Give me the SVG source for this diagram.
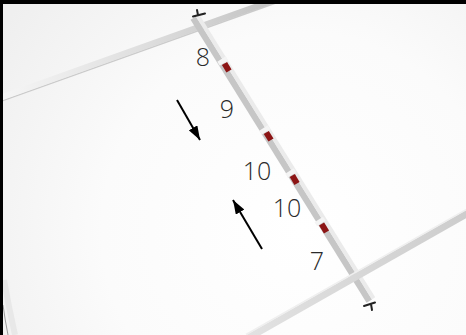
<svg xmlns="http://www.w3.org/2000/svg" width="466" height="335" viewBox="0 0 466 335">
  <defs>
    <radialGradient id="bg" cx="300" cy="230" r="360" gradientUnits="userSpaceOnUse">
      <stop offset="0" stop-color="#ffffff"/>
      <stop offset="0.55" stop-color="#fbfbfb"/>
      <stop offset="1" stop-color="#efefef"/>
    </radialGradient>
    <linearGradient id="roadTop" x1="0" y1="0" x2="266" y2="0" gradientUnits="userSpaceOnUse">
      <stop offset="0" stop-color="#f6f6f6"/>
      <stop offset="0.55" stop-color="#dedede"/>
      <stop offset="1" stop-color="#c4c4c4"/>
    </linearGradient>
    <linearGradient id="roadBot" x1="250" y1="0" x2="466" y2="0" gradientUnits="userSpaceOnUse">
      <stop offset="0" stop-color="#e2e2e2"/>
      <stop offset="1" stop-color="#cdcdcd"/>
    </linearGradient>
    <marker id="ah" viewBox="0 0 14 10" refX="14" refY="5" markerWidth="14" markerHeight="10" markerUnits="userSpaceOnUse" orient="auto">
      <path d="M0,0 L14,5 L0,10 z" fill="#000"/>
    </marker>
    <style>
      .num { font-family: "Open Sans", "Liberation Sans", sans-serif; font-weight: 300; font-size: 25px; fill: #2a2a2a; text-anchor: middle; }
      .arrow { stroke: #000; stroke-width: 2; fill: none; marker-end: url(#ah); }
      .red { stroke: #8c1515; stroke-width: 6; }
      .gap { stroke: #f4f4f4; stroke-width: 10; }
      .tick { stroke: #222; stroke-width: 2; fill: none; stroke-linecap: round; }
    </style>
  </defs>

  <rect x="0" y="0" width="466" height="335" fill="url(#bg)"/>

  <g id="left-curve">
    <path d="M4,280 Q9,308 15,335" stroke="#e8e8e8" stroke-width="6" fill="none"/>
    <path d="M3,305 Q5,320 8,335" stroke="#9a9a9a" stroke-width="1" fill="none"/>
  </g>

  <g id="upper-road">
    <line x1="0" y1="101.5" x2="280" y2="1.5" stroke="#c0c0c0" stroke-width="1.5" opacity="0.8"/>
    <line x1="0" y1="98" x2="280" y2="-2" stroke="url(#roadTop)" stroke-width="6"/>
  </g>

  <g id="track">
    <line x1="193.3" y1="18.1" x2="369.3" y2="301.1" stroke="#c6c6c6" stroke-width="6.5"/>
    <line x1="197.5" y1="15.4" x2="373.5" y2="298.4" stroke="#ebebeb" stroke-width="4"/>
    <line class="gap" x1="221.5" y1="59" x2="224" y2="63"/>
    <line class="red" x1="224.5" y1="63.5" x2="229" y2="71"/>
    <line class="gap" x1="263.5" y1="128" x2="266" y2="132"/>
    <line class="red" x1="266.3" y1="132.5" x2="271" y2="140"/>
    <line class="gap" x1="289.5" y1="171" x2="292" y2="175"/>
    <line class="red" x1="292.3" y1="175.5" x2="297" y2="183.5"/>
    <line class="gap" x1="318.8" y1="219.5" x2="321.3" y2="223.5"/>
    <line class="red" x1="321.6" y1="224" x2="326.5" y2="232"/>
    <path class="tick" d="M193,16.5 L205,13.5 M198,15 L197,10"/>
    <path class="tick" d="M364,306 L375,302.5 M371,304 L372,310"/>
  </g>

  <g id="lower-road">
    <line x1="248" y1="338" x2="470" y2="212" stroke="url(#roadBot)" stroke-width="7"/>
    <line x1="246" y1="334.5" x2="468" y2="208.5" stroke="#efefef" stroke-width="1.5"/>
  </g>

  <g id="labels">
    <text class="num" x="203" y="66">8</text>
    <text class="num" x="227" y="118">9</text>
    <text class="num" x="257" y="180">10</text>
    <text class="num" x="287" y="217">10</text>
    <text class="num" x="317" y="270">7</text>
  </g>

  <g id="connectors">
    <line class="arrow" x1="177" y1="100" x2="200" y2="140"/>
    <line class="arrow" x1="262" y1="249" x2="233" y2="200"/>
  </g>

  <rect x="0" y="0" width="466" height="4" fill="#000"/>
  <rect x="0" y="0" width="3" height="335" fill="#000"/>
</svg>
